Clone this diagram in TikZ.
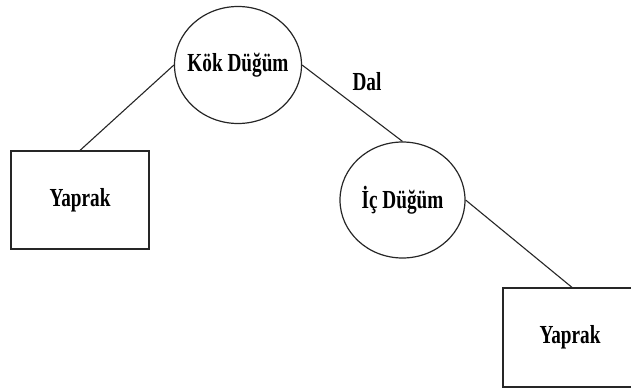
\documentclass[tikz,border=0pt]{standalone}
\usepackage{fontspec}
\usetikzlibrary{shapes.geometric}
\newfontfamily\lblfont[FakeStretch=0.74]{Liberation Serif}
\begin{document}
\begin{tikzpicture}[x=1pt,y=-1pt,
  every node/.style={font=\lblfont\bfseries\fontsize{26}{29}\selectfont, text=black},
  elnode/.style={draw=black!85, line width=1.2pt, ellipse, inner sep=0pt},
  leafbox/.style={draw=black!85, line width=1.2pt, rectangle, inner sep=0pt, minimum width=138pt, minimum height=98pt},
  edge/.style={draw=black!85, line width=1.1pt}]
\useasboundingbox (0,0) rectangle (631,388);
\node[elnode, minimum width=127pt, minimum height=117pt, label={center:Kök Düğüm}] (kok) at (238,65) {};
\node[elnode, minimum width=125pt, minimum height=116pt, label={center:İç Düğüm}] (ic) at (402.5,200) {};
\node[leafbox] (leaf1) at (80,200) {Yaprak};
\node[leafbox, minimum height=99pt] (leaf2) at (572,337.5) {};
\node (leaf2text) at (570,337) {Yaprak};
\node (dal) at (367,82) {Dal};
\draw[edge] (kok.west) -- (leaf1.north);
\draw[edge] (kok.east) -- (ic.north);
\draw[edge] (ic.east) -- (leaf2.north);
\end{tikzpicture}
\end{document}
